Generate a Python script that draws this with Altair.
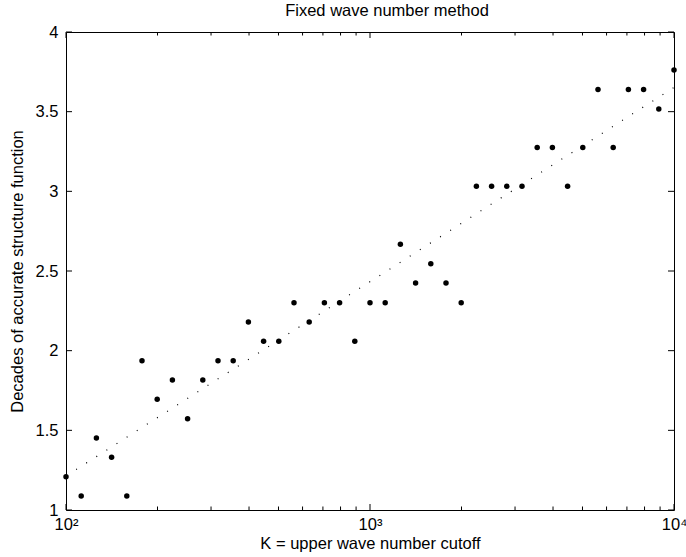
import altair as alt
import numpy as np
import pandas as pd

# Upper wave number cutoffs: 20 log-spaced values per decade, 10^2 .. 10^4
k_cutoff = [100 * 10 ** (i / 20) for i in range(41)]

# Decades of accurate structure function for each cutoff
decades = [
    1.209, 1.088, 1.452, 1.331, 1.088, 1.937, 1.695, 1.816, 1.573, 1.816,
    1.937, 1.937, 2.180, 2.059, 2.059, 2.301, 2.180, 2.301, 2.301, 2.059,
    2.301, 2.301, 2.668, 2.425, 2.546, 2.425, 2.301, 3.032, 3.032, 3.032,
    3.032, 3.275, 3.275, 3.032, 3.275, 3.639, 3.275, 3.639, 3.639, 3.517,
    3.762,
]

x_major = [100, 1000, 10000]
x_minor = [m * 10 ** e for e in (2, 3) for m in range(2, 10)]
x_tick_labels = ["10²", "10³", "10⁴"]
y_ticks = [1, 1.5, 2, 2.5, 3, 3.5, 4]

FONT = "Liberation Sans"
FS = 16.5
W, H = 608, 478
MAJOR, MINOR = 6, 3.5

pts = pd.DataFrame({"K": k_cutoff, "D": decades})

# Least-squares line of decades against log10(K)
slope, intercept = np.polyfit(np.log10(k_cutoff), decades, 1)
fit_x = [100, 10000]
fit = pd.DataFrame({"K": fit_x, "D": [intercept + slope * np.log10(v) for v in fit_x]})

label_expr = " : ".join(
    f"datum.value == {v} ? '{s}'" for v, s in zip(x_major, x_tick_labels)
) + " : ''"

x_scale = alt.Scale(type="log", domain=[100, 10000], nice=False)
y_scale = alt.Scale(domain=[1, 4], nice=False, zero=False)

common_axis = dict(
    domain=False, grid=False, ticks=False,
    labelFont=FONT, labelFontSize=FS, labelColor="black",
    titleFont=FONT, titleFontSize=FS, titleColor="black", titleFontWeight="normal",
)

x_axis = alt.Axis(
    orient="bottom", values=x_major, labelExpr=label_expr, labelFlush=False,
    labelPadding=6, labelBaseline="top",
    title="K = upper wave number cutoff", titleX=W / 2, titleY=38.5,
    titleBaseline="alphabetic", titleAlign="center",
    **common_axis,
)
y_axis = alt.Axis(
    orient="left", values=y_ticks, format="~g", labelPadding=8,
    labelFlush=False,
    title="Decades of accurate structure function",
    titleX=-48.5, titleY=H / 2, titleAngle=270,
    titleBaseline="middle", titleAlign="center",
    **common_axis,
)

# Shared encodings: every layer uses the same scales and axis definitions
X = alt.X("K:Q", scale=x_scale, axis=x_axis)
Y = alt.Y("D:Q", scale=y_scale, axis=y_axis)

fit_line = alt.Chart(fit).mark_line(
    color="black", strokeWidth=1.2, strokeDash=[1, 11], strokeCap="butt"
).encode(x=X, y=Y)

points = alt.Chart(pts).mark_circle(size=30, color="black", opacity=1).encode(
    x=X, y=Y
)


# Inward tick marks on all four sides of the box
def x_ticks_layer(values, length):
    base = alt.Chart(pd.DataFrame({"K": values})).mark_rule(color="black", strokeWidth=1)
    bottom = base.encode(x=X, y=alt.value(H), y2=alt.value(H - length))
    top = base.encode(x=X, y=alt.value(0), y2=alt.value(length))
    return [bottom, top]


ybase = alt.Chart(pd.DataFrame({"D": y_ticks})).mark_rule(color="black", strokeWidth=1)
y_left_ticks = ybase.encode(y=Y, x=alt.value(0), x2=alt.value(MAJOR))
y_right_ticks = ybase.encode(y=Y, x=alt.value(W), x2=alt.value(W - MAJOR))

layers = (
    [fit_line]
    + x_ticks_layer(x_major, MAJOR)
    + x_ticks_layer(x_minor, MINOR)
    + [y_left_ticks, y_right_ticks, points]
)

chart = (
    alt.layer(*layers)
    .properties(
        width=W,
        height=H,
        autosize=alt.AutoSizeParams(type="none"),
        padding={"left": 66, "top": 32, "right": 12, "bottom": 47},
        title=alt.TitleParams(
            "Fixed wave number method", font=FONT, fontSize=FS,
            fontWeight="normal", color="black", anchor="middle",
            offset=5, dx=17,
        ),
        background="white",
    )
    .configure_view(stroke="black", strokeWidth=1)
)

chart.save("out.html", embed_options={"renderer": "svg", "actions": False})
